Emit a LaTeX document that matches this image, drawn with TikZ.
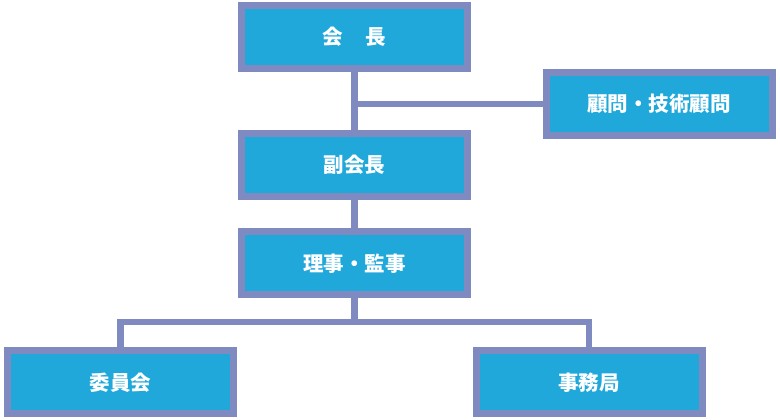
\documentclass[tikz,border=0pt]{standalone}
\usepackage{fontspec}
\newfontfamily\jp{Noto Sans CJK JP}
\usetikzlibrary{backgrounds}
\definecolor{boxfill}{HTML}{20A8DA}
\definecolor{boxline}{HTML}{7E8AC0}
\tikzset{
  orgbox/.style={draw=boxline, fill=boxfill, line width=7pt, minimum width=226pt, minimum height=63pt,
    inner sep=0pt, text=white, font=\jp\bfseries\fontsize{20.5}{20.5}\selectfont},
  conn/.style={draw=boxline, line width=6.5pt}
}
\begin{document}
\begin{tikzpicture}[x=1pt,y=1pt]
\useasboundingbox (0,0) rectangle (780,420);
\node[orgbox] (kaicho) at (354.5,383) {会\hspace{1.1em}長};
\node[orgbox] (fuku) at (354.5,255) {副会長};
\node[orgbox] (riji) at (354.5,156.5) {理事・監事};
\node[orgbox] (komon) at (659,316) {顧問・技術顧問};
\node[orgbox] (iin) at (120.5,37.5) {委員会};
\node[orgbox] (jimu) at (589,37.5) {事務局};
\coordinate (bar) at (354.5,98);
\begin{scope}[on background layer]
\draw[conn] (kaicho) -- (fuku);
\draw[conn] (fuku) -- (riji);
\draw[conn] (komon.west) -- (komon.west -| kaicho);
\draw[conn] (riji) -- (bar);
\draw[conn] (iin) |- (bar) -| (jimu);
\end{scope}
\end{tikzpicture}
\end{document}
